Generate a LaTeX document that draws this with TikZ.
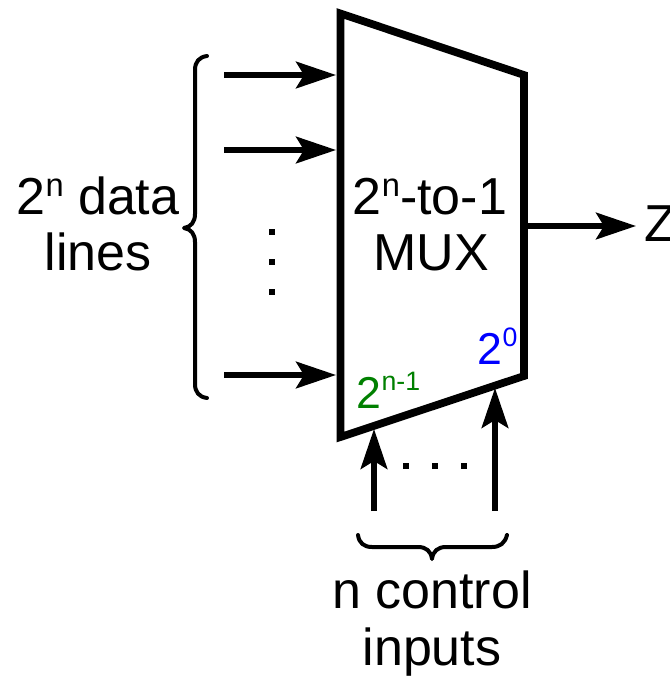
\documentclass[tikz,border=0pt]{standalone}
\usepackage{fontspec}
\setmainfont{Liberation Sans}
\usetikzlibrary{arrows.meta}
\newcommand{\supr}[1]{\raisebox{13pt}{\fontsize{24.5pt}{28pt}\selectfont #1}}
\newcommand{\supq}[1]{\raisebox{13.5pt}{\fontsize{20pt}{24pt}\selectfont #1}}
\tikzset{
  x=0.75pt,y=-0.75pt,
  lab/.style={anchor=base,inner sep=0pt,font=\fontsize{39pt}{45pt}\selectfont},
  lab2/.style={anchor=base,inner sep=0pt,font=\fontsize{33.5pt}{38pt}\selectfont},
  sig/.style={line width=3.9pt,-{Stealth[length=30pt,width=20pt,inset=6pt]},shorten >=0pt},
  brc/.style={line width=3pt,line cap=round,line join=round},
  dotm/.style={fill=black,inner sep=0pt,minimum size=5.2pt,rectangle}
}
\definecolor{grn}{RGB}{0,128,0}
\definecolor{blu}{RGB}{0,0,255}
\begin{document}
\begin{tikzpicture}
\useasboundingbox (0,0) rectangle (670,676);
\draw[line width=5.8pt,miter limit=10] (340.5,13.5) coordinate (tl) -- (524,75) -- (524,376) -- (340.5,437) -- cycle;
\coordinate (a1s) at (224,75);  \coordinate (a1e) at (336,75);
\coordinate (a2s) at (224,150); \coordinate (a2e) at (336,150);
\coordinate (a3s) at (224,375); \coordinate (a3e) at (336,375);
\coordinate (zs) at (524,226);  \coordinate (ze) at (636,226);
\coordinate (c1s) at (374,511); \coordinate (c1e) at (374,429);
\coordinate (c2s) at (495,511); \coordinate (c2e) at (495,388);
\draw[sig] (a1s) -- (a1e);
\draw[sig] (a2s) -- (a2e);
\draw[sig] (a3s) -- (a3e);
\draw[sig] (zs) -- (ze);
\draw[sig] (c1s) -- (c1e);
\draw[sig] (c2s) -- (c2e);
% left brace
\draw[brc] (207,56) .. controls (199,57) and (195,62) .. (195,70) -- (195,214)
  .. controls (195,222) and (191,227) .. (184,228)
  .. controls (191,229) and (195,234) .. (195,242) -- (195,384)
  .. controls (195,392) and (199,397) .. (207,398);
% bottom brace
\draw[brc] (358,535) .. controls (359,543) and (364,547) .. (372,547) -- (418,547)
  .. controls (426,547) and (431,551) .. (432,559)
  .. controls (433,551) and (438,547) .. (446,547) -- (492,547)
  .. controls (500,547) and (505,543) .. (507,535);
% dots
\node[dotm] (v1) at (272,232) {};
\node[dotm] (v2) at (272,262) {};
\node[dotm] (v3) at (272,292) {};
\node[dotm] (h1) at (406,466) {};
\node[dotm] (h2) at (435,466) {};
\node[dotm] (h3) at (464,466) {};
% labels
\node[lab] (d1) at (98,214) {2\supr{n} data};
\node[lab] (d2) at (98,270) {lines};
\node[lab] (m1) at (430,214) {2\supr{n}-to-1};
\node[lab] (m2) at (431,270) {MUX};
\node[lab2,text=grn] (g) at (388.5,408) {2\supq{n-1}};
\node[lab2,text=blu] (b) at (497.5,364) {2\supq{0}};
\node[lab,anchor=base west] (z) at (644,241) {Z};
\node[lab] (n1) at (432,608) {n control};
\node[lab] (n2) at (432,665) {inputs};
\end{tikzpicture}
\end{document}
